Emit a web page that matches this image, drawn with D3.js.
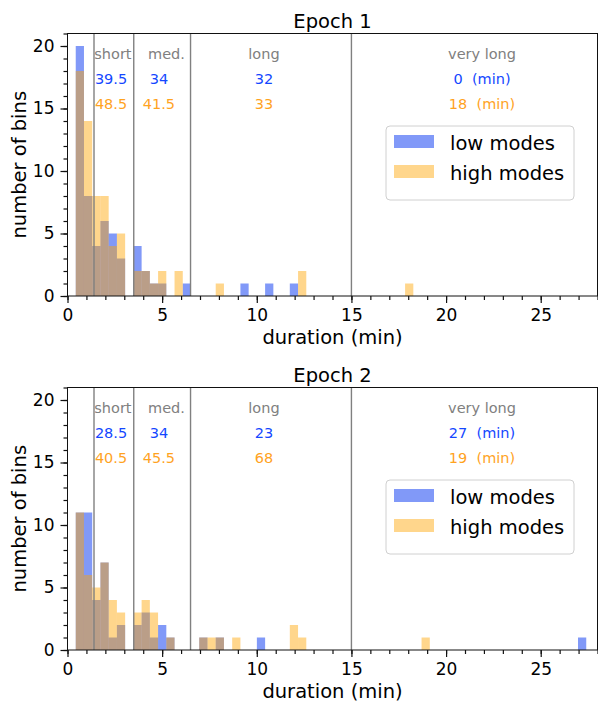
<!DOCTYPE html>
<html>
<head>
<meta charset="utf-8">
<script src="https://cdn.jsdelivr.net/npm/d3@7"></script>
<style>
  body { margin: 0; background: #fff; }
  text { font-family: "DejaVu Sans", sans-serif; }
</style>
</head>
<body>
<div id="chart"></div>
<script>
// histogram bins are binWidth minutes wide, bin k starts at k*binWidth
const binWidth = 0.435
const xTicks = [0, 5, 10, 15, 20, 25]
const yTicks = [0, 5, 10, 15, 20]
const classNames = ["short", "med.", "long", "very long"]
const classEdges = [1.4, 3.5, 6.5, 15]
const seriesNames = ["low modes", "high modes"]
const epochTitles = ["Epoch 1", "Epoch 2"]

const epoch1LowBins   = [1, 2, 3, 4, 5, 6, 8, 9, 10, 11, 14, 21, 24, 27]
const epoch1LowCounts = [20, 8, 4, 6, 5, 3, 4, 2, 1, 1, 1, 1, 1, 1]
const epoch1HighBins   = [1, 2, 3, 4, 5, 6, 8, 9, 10, 11, 13, 18, 28, 41]
const epoch1HighCounts = [18, 14, 8, 8, 4, 5, 2, 2, 1, 2, 2, 1, 2, 1]

const epoch2LowBins   = [1, 2, 3, 4, 5, 6, 8, 9, 10, 11, 12, 16, 18, 23, 62]
const epoch2LowCounts = [11, 11, 4, 7, 1, 2, 2, 3, 1, 2, 1, 1, 1, 1, 1]
const epoch2HighBins   = [1, 2, 3, 4, 5, 6, 8, 9, 10, 12, 16, 17, 18, 20, 27, 28, 43]
const epoch2HighCounts = [11, 6, 5, 7, 4, 3, 3, 4, 3, 1, 1, 1, 1, 1, 2, 1, 1]

// median durations per class (min)
const epoch1LowMedians  = ["39.5", "34", "32", "0"]
const epoch1HighMedians = ["48.5", "41.5", "33", "18"]
const epoch2LowMedians  = ["28.5", "34", "23", "27"]
const epoch2HighMedians = ["40.5", "45.5", "68", "19"]

const lowColor = "#0334f2", highColor = "#ffa500"
const lowText = "#1447ff", highText = "#ffa31f"

function panel(svg, top, title, low, high, lowMed, highMed){
  let left = 67.5, right = 597.5, h = 262.5
  let xScale = d3.scaleLinear().domain([0, 28]).range([left, right])
  let yScale = d3.scaleLinear().domain([0, 21]).range([top + h, top])
  let g = svg.append("g")
  let bw = xScale(binWidth) - xScale(0)

  let series = [
    { bins: low[0], counts: low[1], color: lowColor, op: 0.5 },
    { bins: high[0], counts: high[1], color: highColor, op: 0.45 }
  ]
  series.forEach(s => {
    let d = s.bins.map((b, i) => ({ x: b * binWidth, n: s.counts[i] }))
    g.append("g").selectAll("rect").data(d).enter().append("rect")
      .attr("x", v => xScale(v.x))
      .attr("y", v => yScale(v.n))
      .attr("width", bw)
      .attr("height", v => yScale(0) - yScale(v.n))
      .attr("fill", s.color).attr("fill-opacity", s.op)
  })

  // class boundaries
  g.selectAll(".edge").data(classEdges).enter().append("line")
    .attr("x1", d => xScale(d)).attr("x2", d => xScale(d))
    .attr("y1", yScale(21)).attr("y2", yScale(0))
    .attr("stroke", "#808080").attr("stroke-width", 1.4)

  let labelX = [2.4, 5.23, 10.38, 21.9], valueX = [2.3, 4.83, 10.38, 21.9]
  classNames.forEach((c, i) => {
    let unit = i == 3 ? "  (min)" : ""
    g.append("text").attr("x", xScale(labelX[i])).attr("y", yScale(19))
      .attr("text-anchor", "middle").attr("fill", "#808080").attr("font-size", 14.5).text(c)
    g.append("text").attr("x", xScale(valueX[i])).attr("y", yScale(17))
      .attr("text-anchor", "middle").attr("fill", lowText).attr("font-size", 14.5)
      .style("white-space", "pre").text(lowMed[i] + unit)
    g.append("text").attr("x", xScale(valueX[i])).attr("y", yScale(15))
      .attr("text-anchor", "middle").attr("fill", highText).attr("font-size", 14.5)
      .style("white-space", "pre").text(highMed[i] + unit)
  })

  // axes
  let xAxis = d3.axisBottom(xScale).tickValues(xTicks).tickSize(7).tickPadding(6)
  let xMinor = d3.axisBottom(xScale).tickValues(d3.range(0, 29)).tickSize(4).tickFormat("")
  let yAxis = d3.axisLeft(yScale).tickValues(yTicks).tickSize(7).tickPadding(6)
  let yMinor = d3.axisLeft(yScale).tickValues(d3.range(0, 22)).tickSize(4).tickFormat("")
  let axes = [
    g.append("g").attr("transform", `translate(0,${top + h})`).call(xMinor),
    g.append("g").attr("transform", `translate(0,${top + h})`).call(xAxis),
    g.append("g").attr("transform", `translate(${left},0)`).call(yMinor),
    g.append("g").attr("transform", `translate(${left},0)`).call(yAxis)
  ]
  axes.forEach(a => {
    a.select(".domain").remove()
    a.selectAll("line").attr("stroke", "#111").attr("stroke-width", 1.2)
    a.selectAll("text").attr("font-size", 17).attr("fill", "#000").attr("font-family", "DejaVu Sans, sans-serif")
  })
  g.append("rect").attr("x", left).attr("y", top).attr("width", right - left).attr("height", h)
    .attr("fill", "none").attr("stroke", "#111").attr("stroke-width", 1)

  // legend
  let lx = right - 211.5, ly = top + 92.5
  let lg = g.append("g").attr("transform", `translate(${lx},${ly})`)
  lg.append("rect").attr("width", 188).attr("height", 74).attr("rx", 4)
    .attr("fill", "#fff").attr("fill-opacity", 0.8).attr("stroke", "#d0d0d0")
  seriesNames.forEach((s, i) => {
    lg.append("rect").attr("x", 8).attr("y", 9 + i * 30).attr("width", 40).attr("height", 13)
      .attr("fill", series[i].color).attr("fill-opacity", series[i].op)
    lg.append("text").attr("x", 64).attr("y", 24 + i * 30).attr("font-size", 19.5).text(s)
  })

  g.append("text").attr("x", (left + right) / 2).attr("y", top - 6).attr("text-anchor", "middle")
    .attr("font-size", 19.5).text(title)
  g.append("text").attr("x", (left + right) / 2).attr("y", top + h + 47.5).attr("text-anchor", "middle")
    .attr("font-size", 19.5).text("duration (min)")
  g.append("text").attr("transform", `translate(25.5,${top + h / 2}) rotate(-90)`).attr("text-anchor", "middle")
    .attr("font-size", 19.5).text("number of bins")
}

let svg = d3.select("#chart").append("svg").attr("width", 598).attr("height", 702)
panel(svg, 33.5, epochTitles[0], [epoch1LowBins, epoch1LowCounts], [epoch1HighBins, epoch1HighCounts],
      epoch1LowMedians, epoch1HighMedians)
panel(svg, 387.5, epochTitles[1], [epoch2LowBins, epoch2LowCounts], [epoch2HighBins, epoch2HighCounts],
      epoch2LowMedians, epoch2HighMedians)
</script>
</body>
</html>
